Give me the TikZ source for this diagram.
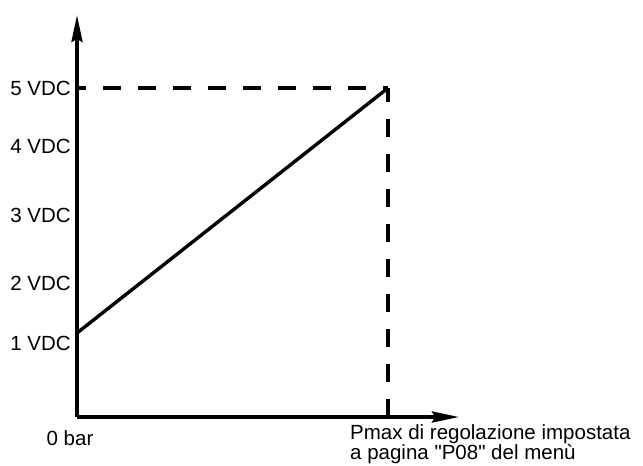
\documentclass[tikz,border=0pt]{standalone}
\usepackage{fontspec}
\setmainfont{Liberation Sans}
\usetikzlibrary{positioning,arrows.meta}

\begin{document}
\begin{tikzpicture}[x=1pt,y=-1pt,
    axis/.style={line width=3.4pt,-{Stealth[length=27pt,width=11pt,inset=3pt]}},
    guide/.style={line width=3.4pt,dash pattern=on 18pt off 17pt},
    lbl/.style={inner sep=0pt,font=\fontsize{20.5}{16}\selectfont}]
    \useasboundingbox (0,0) rectangle (643,466);

    \coordinate (o) at (77,417);
    \coordinate (ytop) at (77,15);
    \coordinate (xend) at (459,417);
    \coordinate (v1) at (77,343);
    \coordinate (v2) at (77,283);
    \coordinate (v3) at (77,215);
    \coordinate (v4) at (77,146);
    \coordinate (v5) at (77,88);
    \coordinate (start) at (77,333);
    \coordinate (pmax) at (388,88);
    \coordinate (foot) at (388,417);

    \node[lbl] (l5) [left = 6pt of v5] {5 VDC};
    \node[lbl] (l4) [left = 6pt of v4] {4 VDC};
    \node[lbl] (l3) [left = 6pt of v3] {3 VDC};
    \node[lbl] (l2) [left = 6pt of v2] {2 VDC};
    \node[lbl] (l1) [left = 6pt of v1] {1 VDC};
    \node[lbl] (zero) at (70,438) {0 bar};
    \node[lbl,anchor=north west,align=left] (desc) at (350,424)
        {Pmax di regolazione impostata\\a pagina \textquotedbl P08\textquotedbl{} del menù};

    \draw[axis] (o) -- (ytop);
    \draw[axis] (o) -- (xend);
    \draw[guide,dash phase=9pt] (v5) -- (pmax);
    \draw[guide] (foot) -- (pmax);
    \draw[line width=3.4pt] (start) -- (pmax);
\end{tikzpicture}
\end{document}
